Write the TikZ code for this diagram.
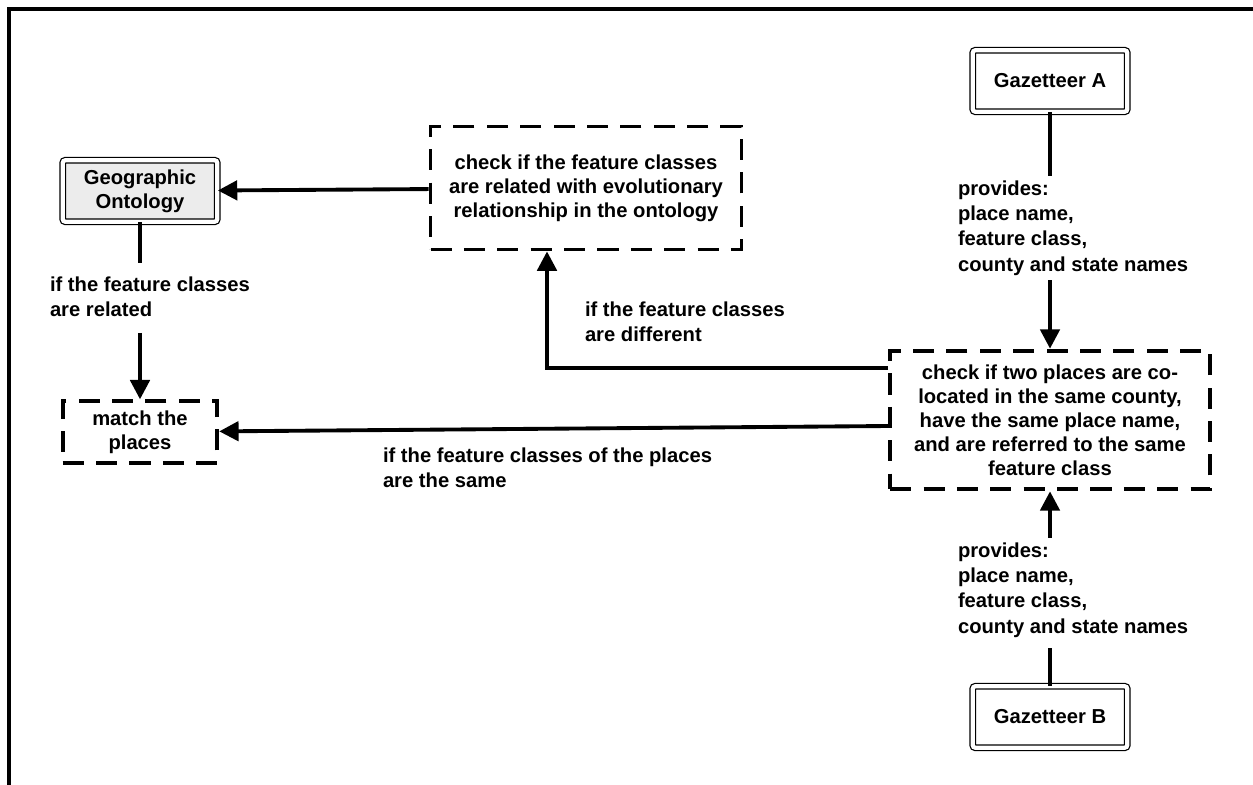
\documentclass[tikz,border=0pt]{standalone}
\usepackage{fontspec}
\setmainfont{Liberation Sans}
\usetikzlibrary{arrows.meta, % For the big triangle tips
                positioning, % For easy node-relative placements
               }

\tikzset{
  gaz/.style={draw, double, line width=0.7pt, double distance=2.4pt,
              rounded corners=1.5pt, minimum width=88pt, minimum height=35pt, align=center},
  check/.style={draw, line width=2.2pt, dash pattern=on 12pt off 7pt, align=center},
  lbl/.style={anchor=north west, align=left, inner sep=0pt, outer sep=0pt,
              font=\bfseries\fontsize{11.5}{14.3}\selectfont},
  flow/.style={line width=2.2pt, -{Triangle[length=11pt,width=11pt]}},
  link/.style={line width=2.2pt},
}

\begin{document}
\begin{tikzpicture}[x=0.02cm, y=-0.02cm, % pixel coordinates of the scan
  every node/.style={font=\bfseries\fontsize{11.5}{13.6}\selectfont}]
  \useasboundingbox (0,0) rectangle (1253,784);
  \draw[line width=2pt] (9,790) -- (9,9) -- (1260,9);

  \node[gaz, fill=gray!15] (geo_ont) at (140,191) {Geographic\\Ontology};
  \node[gaz] (gaz_a) at (1050,81) {Gazetteer A};
  \node[gaz] (gaz_b) at (1050,717) {Gazetteer B};

  \node[check, minimum width=177pt, minimum height=70pt] (check_ont) at (586,188)
    {check if the feature classes\\are related with evolutionary\\relationship in the ontology};
  \node[check, minimum width=88pt, minimum height=35pt] (match) at (140,432) {match the\\places};
  \node[check, minimum width=182pt, minimum height=79pt] (check_co) at (1050,420)
    {check if two places are co-\\located in the same county,\\have the same place name,\\and are referred to the same\\feature class};

  \node[lbl] (provides_a) at (958,181) {provides:\\place name,\\feature class,\\county and state names};
  \node[lbl] (provides_b) at (958,543) {provides:\\place name,\\feature class,\\county and state names};
  \node[lbl] (related) at (50,277) {if the feature classes\\are related};
  \node[lbl] (different) at (585,302) {if the feature classes\\are different};
  \node[lbl] (same) at (383,448) {if the feature classes of the places\\are the same};

  \draw[link] (gaz_a) -- ([yshift=3pt]gaz_a |- provides_a.north);
  \draw[flow] ([yshift=-3pt]gaz_a |- provides_a.south) -- (check_co);
  \draw[link] (gaz_b) -- ([yshift=-6pt]gaz_b |- provides_b.south);
  \draw[flow] ([yshift=3pt]gaz_b |- provides_b.north) -- (check_co);

  \draw[flow] (check_ont) -- (geo_ont);
  \draw[link] (geo_ont) -- ([yshift=8pt]geo_ont |- related.north);
  \draw[flow] ([yshift=-9pt]geo_ont |- related.south) -- (match);

  \draw[flow] (check_co.west |- 0,368) -| (547,0 |- check_ont.south);
  \draw[flow] (check_co.west |- 0,426) -- (match);
\end{tikzpicture}
\end{document}
